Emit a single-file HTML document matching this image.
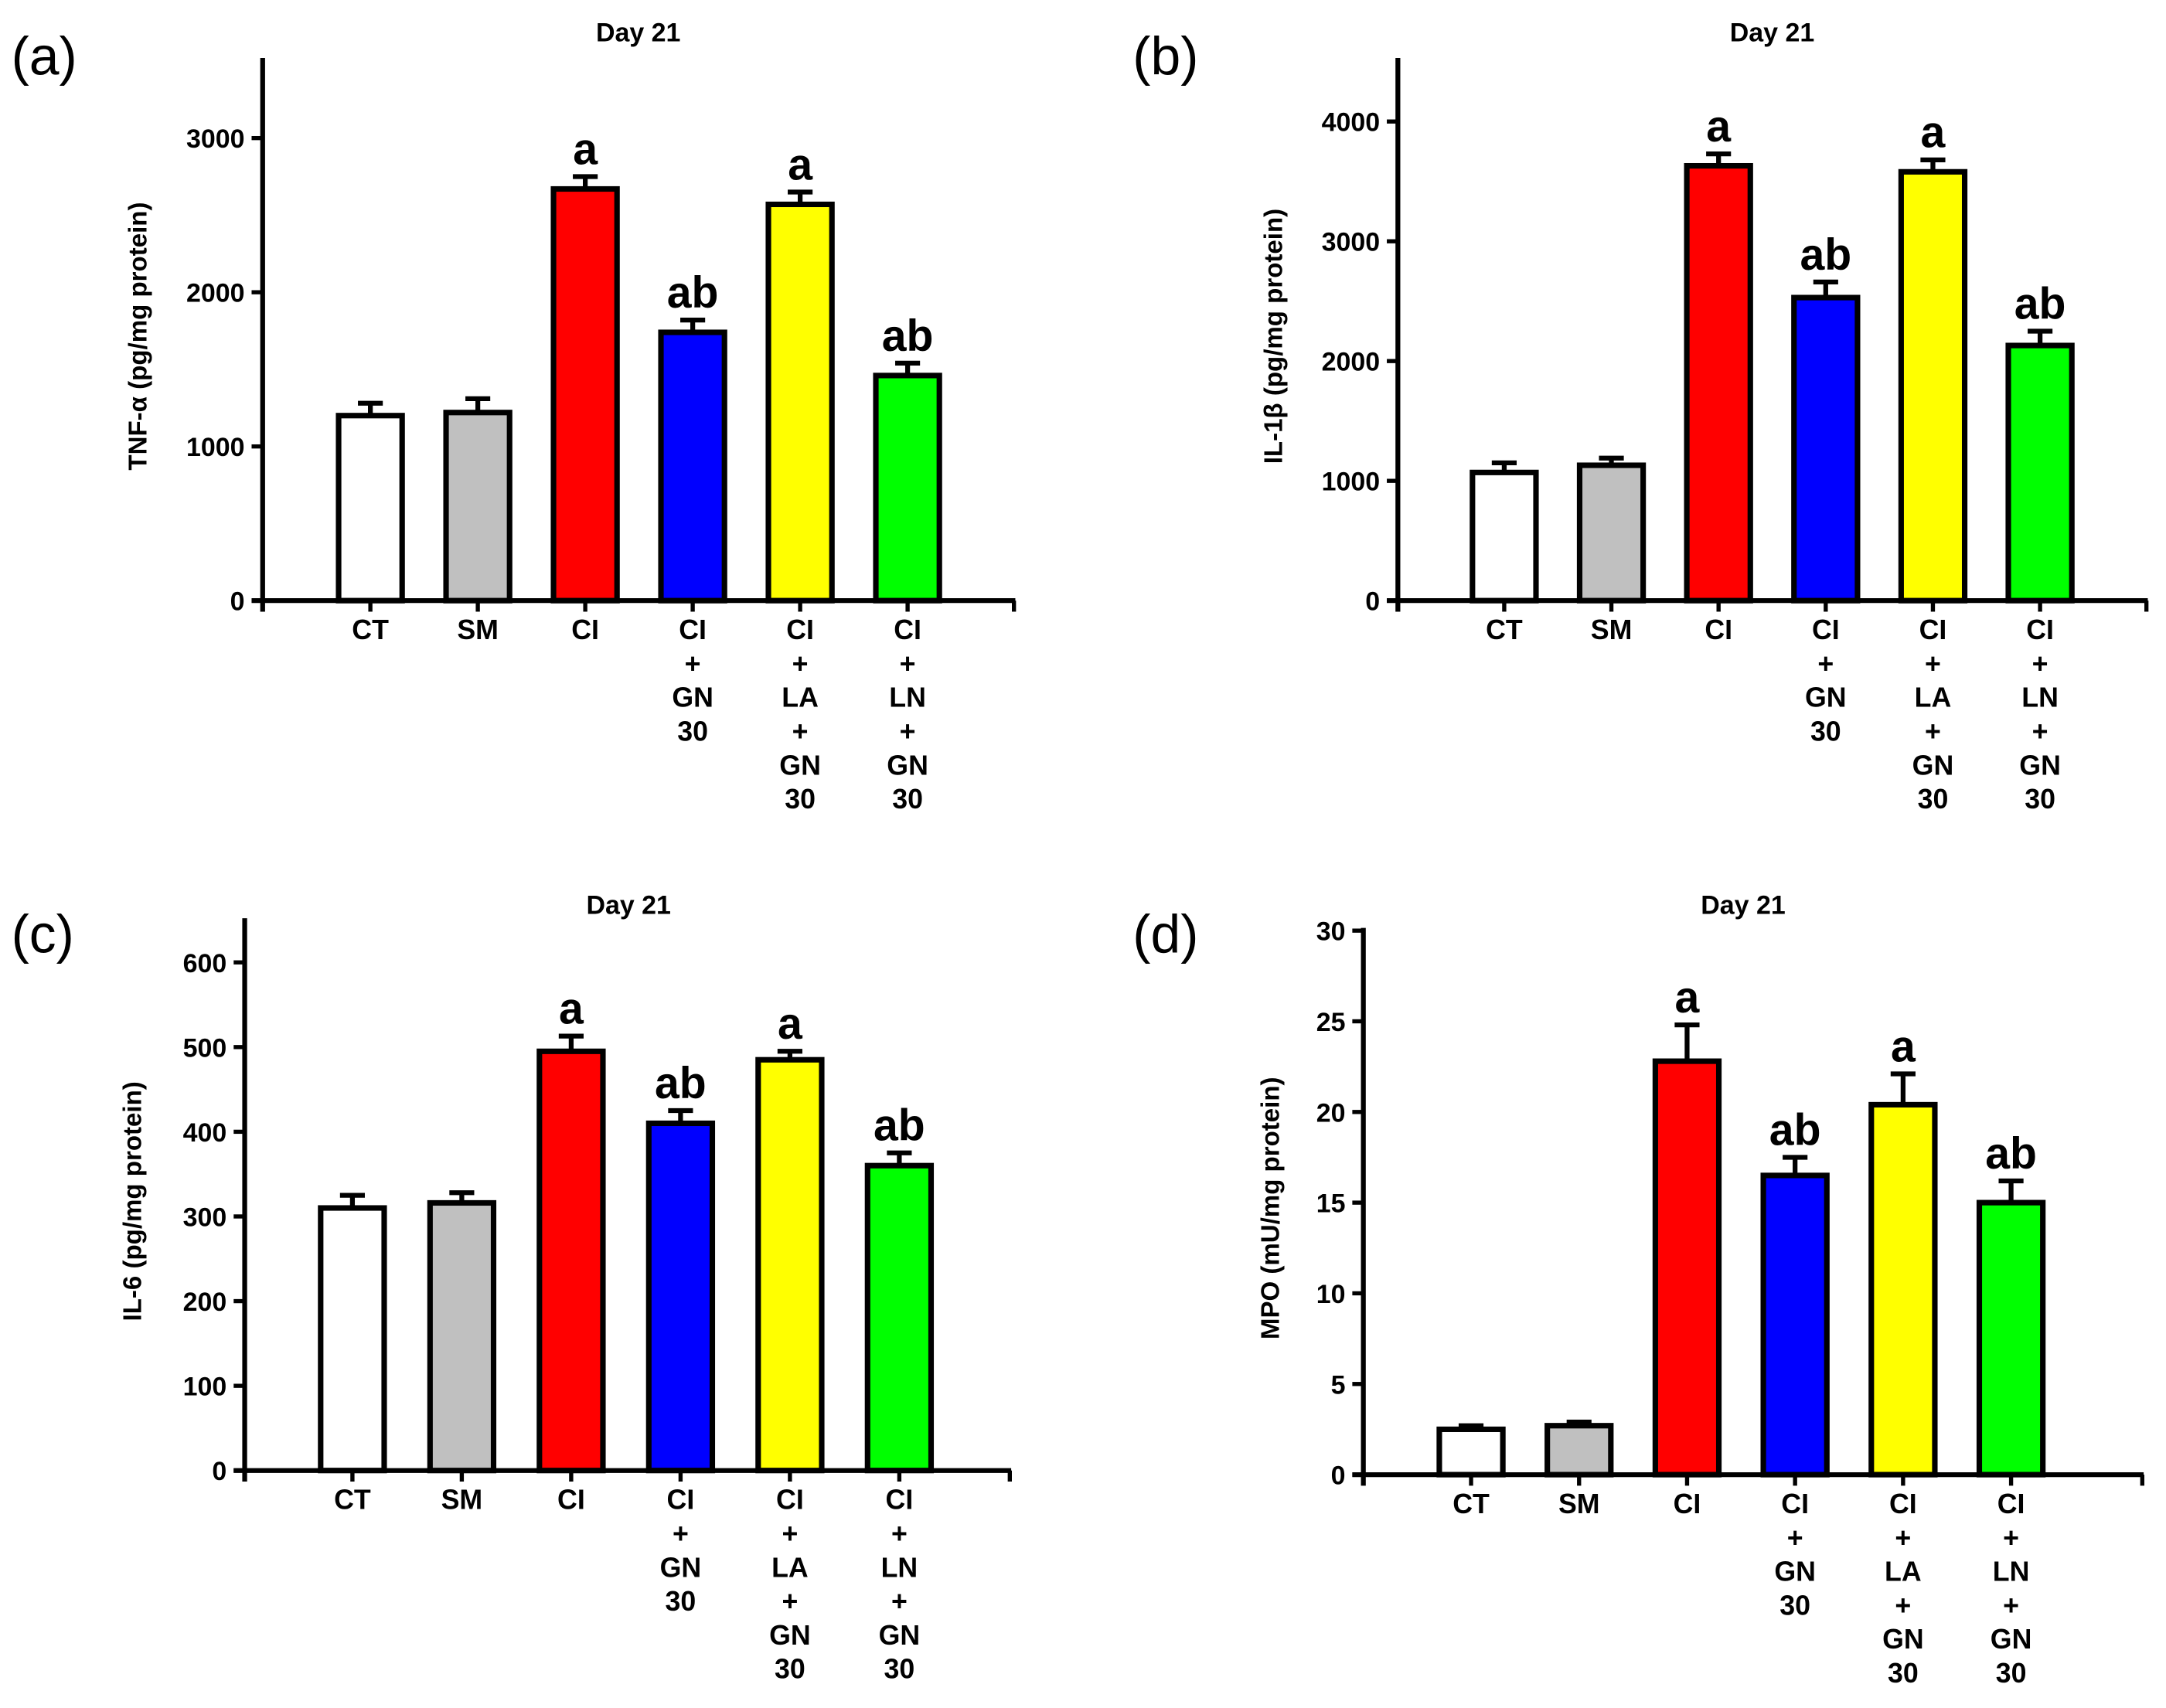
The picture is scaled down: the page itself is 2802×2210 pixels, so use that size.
<!DOCTYPE html>
<html><head><meta charset="utf-8"><style>
html,body{margin:0;padding:0;background:#fff;}
svg{display:block;}
text{font-family:"Liberation Sans",Arial,sans-serif;}
</style></head><body>
<svg id="fig" width="2802" height="2210" viewBox="0 0 1568 1237" xmlns="http://www.w3.org/2000/svg"></svg>
<script>
const categories = [["CT"],["SM"],["CI"],["CI","+","GN","30"],["CI","+","LA","+","GN","30"],["CI","+","LN","+","GN","30"]];
const colors = ["#ffffff","#c0c0c0","#ff0000","#0000ff","#ffff00","#00ff00"];
const sigLetters = ["","","a","ab","a","ab"];
const valuesA = [1200,1220,2670,1740,2570,1460];
const errorsA = [80,90,80,80,80,80];
const ticksA = [0,1000,2000,3000];
const valuesB = [1070,1130,3630,2530,3580,2130];
const errorsB = [80,60,100,130,100,120];
const ticksB = [0,1000,2000,3000,4000];
const valuesC = [310,316,495,410,485,360];
const errorsC = [15,12,18,15,10,15];
const ticksC = [0,100,200,300,400,500,600];
const valuesD = [2.5,2.7,22.8,16.5,20.4,15.0];
const errorsD = [0.2,0.2,2.0,1.0,1.7,1.2];
const ticksD = [0,5,10,15,20,25,30];

const NS="http://www.w3.org/2000/svg";
const svg=document.getElementById('fig');
function mk(tag,attrs,parent){const e=document.createElementNS(NS,tag);for(const k in attrs)e.setAttribute(k,attrs[k]);(parent||svg).appendChild(e);return e;}

const panels=[
 {id:"a",label:"(a)",lx:8,ly:54,ax:190,top:42,base:435,right:735,refTick:3000,refY:100,first:268,step:77.8,title:"TNF-α (pg/mg protein)",tx:462,ty:30,ylx:106,vals:valuesA,errs:errorsA,ticks:ticksA},
 {id:"b",label:"(b)",lx:820,ly:54,ax:1012,top:42,base:435,right:1555,refTick:4000,refY:88,first:1089,step:77.6,title:"IL-1β (pg/mg protein)",tx:1283,ty:30,ylx:928,vals:valuesB,errs:errorsB,ticks:ticksB},
 {id:"c",label:"(c)",lx:8,ly:690,ax:177,top:665,base:1065,right:732,refTick:600,refY:697,first:255,step:79.2,title:"IL-6 (pg/mg protein)",tx:455,ty:662,ylx:102,vals:valuesC,errs:errorsC,ticks:ticksC},
 {id:"d",label:"(d)",lx:820,ly:690,ax:987,top:672,base:1068,right:1552,refTick:30,refY:674,first:1065,step:78.2,title:"MPO (mU/mg protein)",tx:1262,ty:662,ylx:926,vals:valuesD,errs:errorsD,ticks:ticksD}
];

panels.forEach(p=>{
  const g=mk('g',{});
  
  
  const yScale=v=>p.base-(v/p.refTick)*(p.base-p.refY);
  const xScale=i=>p.first+i*p.step;
  const pl=mk('text',{x:p.lx,y:p.ly,'font-size':39,fill:'#000'},g);pl.textContent=p.label;
  
  const t=mk('text',{x:p.tx,y:p.ty,'font-size':19,'font-weight':'bold','text-anchor':'middle'},g);t.textContent="Day 21";
  
  const cy=(p.top+p.base)/2+5;
  const yl=mk('text',{x:p.ylx,y:cy,'font-size':18.5,'font-weight':'bold','text-anchor':'middle',transform:`rotate(-90 ${p.ylx} ${cy})`},g);yl.textContent=p.title;
  
  p.vals.forEach((v,i)=>{
    const cx=xScale(i),w=46,yt=yScale(v),ye=yScale(v+p.errs[i]);
    const el=mk('line',{x1:cx,x2:cx,y1:yt,y2:ye,stroke:'#000','stroke-width':3.5},g);
    
    const cap=mk('line',{x1:cx-9,x2:cx+9,y1:ye,y2:ye,stroke:'#000','stroke-width':3.5},g);
    
    const r=mk('rect',{x:cx-w/2,y:yt,width:w,height:p.base-yt,fill:colors[i],stroke:'#000','stroke-width':4},g);
    
    
    if(sigLetters[i]){
      const s=mk('text',{x:cx,y:ye-9,'font-size':32,'font-weight':'bold','text-anchor':'middle'},g);s.textContent=sigLetters[i];
      
    }
    const tk=mk('line',{x1:cx,x2:cx,y1:p.base,y2:p.base+8,stroke:'#000','stroke-width':3},g);
    
    const lab=mk('text',{x:cx,'font-size':20,'font-weight':'bold','text-anchor':'middle'},g);
    
    categories[i].forEach((ln,j)=>{const ts=mk('tspan',{x:cx,y:p.base+28+j*24.5},lab);ts.textContent=ln;});
  });
  const ya=mk('line',{x1:p.ax,x2:p.ax,y1:p.top,y2:p.base+8,stroke:'#000','stroke-width':3.5},g);
  
  const xa=mk('line',{x1:p.ax-8,x2:p.right,y1:p.base,y2:p.base,stroke:'#000','stroke-width':3.5},g);
  
  const xe=mk('line',{x1:p.right-1,x2:p.right-1,y1:p.base,y2:p.base+8,stroke:'#000','stroke-width':3},g);
  
  p.ticks.forEach(v=>{
    const y=yScale(v);
    const tl=mk('line',{x1:p.ax-8,x2:p.ax,y1:y,y2:y,stroke:'#000','stroke-width':3},g);
    
    const tt=mk('text',{x:p.ax-13,y:y+7,'font-size':19,'font-weight':'bold','text-anchor':'end'},g);tt.textContent=v;
    
  });
});
</script>
</body></html>
